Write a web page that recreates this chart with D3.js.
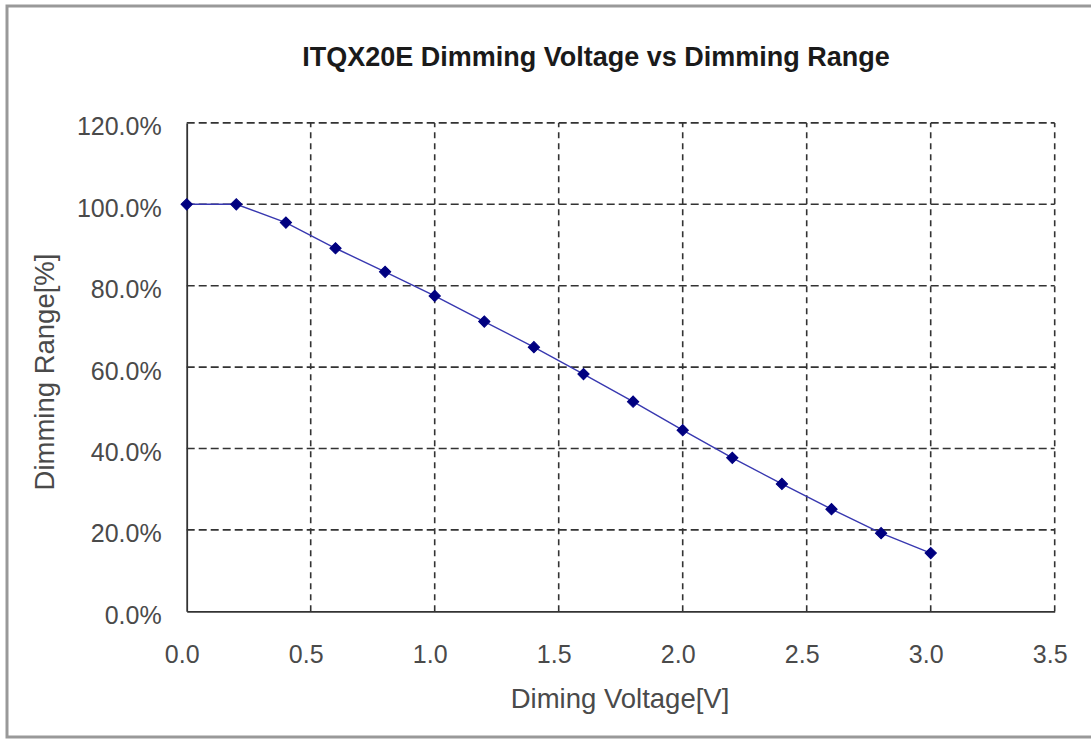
<!DOCTYPE html>
<html>
<head>
<meta charset="utf-8">
<script src="https://cdn.jsdelivr.net/npm/d3@7"></script>
<style>
  body { margin: 0; background: #fff; }
  svg { display: block; font-family: "Liberation Sans", Arial, sans-serif; }
</style>
</head>
<body>
<svg width="1091" height="740"></svg>
<script>
// data
const voltage = [0.0, 0.2, 0.4, 0.6, 0.8, 1.0, 1.2, 1.4, 1.6, 1.8, 2.0, 2.2, 2.4, 2.6, 2.8, 3.0];
const dimming = [100, 100, 95.5, 89.2, 83.4, 77.5, 71.2, 64.9, 58.3, 51.5, 44.5, 37.7, 31.3, 25.1, 19.2, 14.3];
const xTicks = [0, 0.5, 1.0, 1.5, 2.0, 2.5, 3.0, 3.5];
const yTicks = [0, 20, 40, 60, 80, 100, 120];

const TITLE = "ITQX20E Dimming Voltage vs Dimming Range";
const X_TITLE = "Diming Voltage[V]";
const Y_TITLE = "Dimming Range[%]";

// plot area
const LEFT = 186.7;
const RIGHT = 1054.7;
const TOP = 122.9;
const BOTTOM = 611.3;

const svg = d3.select("svg");

// outer chart frame (right side runs off the picture)
svg.append("rect")
  .attr("x", 7)
  .attr("y", 6)
  .attr("width", 1100)
  .attr("height", 731)
  .attr("fill", "#fff")
  .attr("stroke", "#999")
  .attr("stroke-width", 3);

const x = d3.scaleLinear().domain([0, 3.5]).range([LEFT, RIGHT]);
const y = d3.scaleLinear().domain([0, 120]).range([BOTTOM, TOP]);

// dashed gridlines
svg.append("g")
  .selectAll("line")
  .data(yTicks.filter(d => d > 0))
  .join("line")
  .attr("x1", LEFT)
  .attr("x2", RIGHT)
  .attr("y1", d => y(d))
  .attr("y2", d => y(d))
  .attr("stroke", "#333")
  .attr("stroke-width", 1.6)
  .attr("stroke-dasharray", "8,4");

svg.append("g")
  .selectAll("line")
  .data(xTicks.filter(d => d > 0))
  .join("line")
  .attr("x1", d => x(d))
  .attr("x2", d => x(d))
  .attr("y1", BOTTOM)
  .attr("y2", TOP)
  .attr("stroke", "#333")
  .attr("stroke-width", 1.6)
  .attr("stroke-dasharray", "6,5");

// axes: plain lines, labels drawn by d3 axis with ticks hidden
const xAxis = svg.append("g")
  .attr("transform", `translate(0,${BOTTOM})`)
  .call(d3.axisBottom(x).tickValues(xTicks).tickFormat(d3.format(".1f")).tickSize(0).tickPadding(0));

const yAxis = svg.append("g")
  .attr("transform", `translate(${LEFT},0)`)
  .call(d3.axisLeft(y).tickValues(yTicks).tickFormat(d => d3.format(".1f")(d) + "%").tickSize(0).tickPadding(0));

[xAxis, yAxis].forEach(a => {
  a.select(".domain").attr("stroke", "#333").attr("stroke-width", 1.8);
  a.selectAll("text")
    .attr("font-size", 25)
    .attr("font-family", "\"Liberation Sans\", Arial, sans-serif")
    .attr("fill", "#4a4a4a");
});

xAxis.selectAll("text")
  .attr("dy", null)
  .attr("y", 52)
  .attr("x", -5);

yAxis.selectAll("text")
  .attr("dy", null)
  .attr("x", -25)
  .attr("y", 12);

// series line
const line = d3.line()
  .x((d, i) => x(voltage[i]))
  .y(d => y(d));

svg.append("path")
  .datum(dimming)
  .attr("d", line)
  .attr("fill", "none")
  .attr("stroke", "#3838b0")
  .attr("stroke-width", 1.4);

// diamond markers
const diamond = d3.symbol().type(d3.symbolSquare).size(64);

svg.append("g")
  .selectAll("path")
  .data(dimming)
  .join("path")
  .attr("d", diamond)
  .attr("transform", (d, i) => `translate(${x(voltage[i])},${y(d)}) rotate(45)`)
  .attr("fill", "#000080")
  .attr("stroke", "#000080")
  .attr("stroke-width", 1);

// titles
svg.append("text")
  .attr("x", 596)
  .attr("y", 66)
  .attr("text-anchor", "middle")
  .attr("font-size", 27)
  .attr("font-weight", "bold")
  .attr("fill", "#1a1a1a")
  .text(TITLE);

svg.append("text")
  .attr("x", 620)
  .attr("y", 708)
  .attr("text-anchor", "middle")
  .attr("font-size", 27.5)
  .attr("fill", "#4a4a4a")
  .text(X_TITLE);

svg.append("text")
  .attr("transform", "translate(54,372) rotate(-90)")
  .attr("text-anchor", "middle")
  .attr("font-size", 27.5)
  .attr("fill", "#4a4a4a")
  .text(Y_TITLE);
</script>
</body>
</html>
